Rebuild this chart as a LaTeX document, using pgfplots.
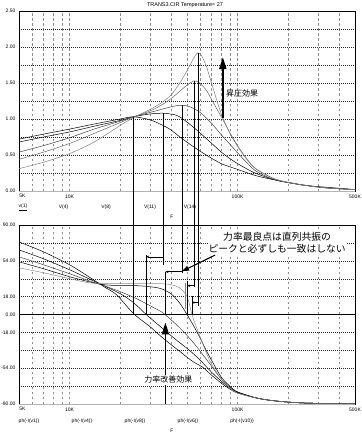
\documentclass[border=0pt]{standalone}
\usepackage{fontspec}
\setmainfont{Liberation Sans}
\newfontfamily\jp{Noto Sans CJK JP}
\usepackage{pgfplots}
\pgfplotsset{compat=1.18}
\usetikzlibrary{arrows.meta}
\pgfplotsset{
    grid style={black!85, dash pattern=on 0.8pt off 1.2pt, line width=0.4pt},
    minor grid style={black!85, dash pattern=on 0.8pt off 1.2pt, line width=0.4pt},
}
\begin{document}
\begin{tikzpicture}[x=1pt,y=1pt]
\useasboundingbox (0,0) rectangle (361,-441);
% ---------------- top axis ----------------
\begin{axis}[scale only axis, width=336pt, height=180pt, at={(19pt,-191pt)}, anchor=south west,
  xmode=log, xmin=5000, xmax=500000,
  xtick={5000,10000,100000,500000}, xticklabels={\hspace*{7pt}5K,10K,100K,500K},
  minor xtick={6000,7000,8000,9000,20000,30000,40000,50000,60000,70000,80000,90000,200000,300000,400000},
  grid=both,
  x grid style={gray!90, dash pattern=on 2.5pt off 2.5pt, line width=0.4pt},
  major tick length=0pt, minor tick length=0pt,
  tick label style={font=\fontsize{5}{6}\selectfont},
  axis line style={line width=0.6pt},
  ymin=0, ymax=2.5,
  ytick={0,0.5,1,1.5,2,2.5}, yticklabels={0.00,0.50,1.00,1.50,2.00,2.50},
  minor ytick={0.25,0.75,1.25,1.75,2.25}]
% V(1)
\addplot[black, line width=0.5pt, smooth, no markers] coordinates {(5000,0.72)(7000,0.79)(10000,0.86)(14000,0.93)(20000,1.00)(24000,1.03)(30000,0.99)(36000,0.91)(40000,0.85)(46000,0.74)(55000,0.61)(65000,0.50)(80000,0.38)(100000,0.30)(130000,0.21)(170000,0.15)(250000,0.08)(350000,0.05)(500000,0.02)};
% V(4)
\addplot[black, line width=0.5pt, smooth, no markers] coordinates {(5000,0.68)(7000,0.75)(10000,0.82)(14000,0.90)(20000,0.98)(24000,1.03)(30000,1.07)(36000,1.08)(42000,1.06)(46000,1.02)(55000,0.88)(65000,0.73)(71000,0.65)(80000,0.54)(90000,0.45)(100000,0.38)(115000,0.30)(130000,0.24)(170000,0.15)(250000,0.08)(350000,0.04)(500000,0.02)};
% V(8)
\addplot[black!75, line width=0.5pt, smooth, no markers] coordinates {(5000,0.54)(7000,0.63)(10000,0.74)(14000,0.86)(20000,0.97)(24000,1.03)(30000,1.09)(36000,1.14)(42000,1.18)(47000,1.19)(52000,1.17)(60000,1.09)(70000,0.94)(80000,0.78)(90000,0.65)(100000,0.53)(115000,0.38)(130000,0.27)(170000,0.15)(250000,0.08)(350000,0.04)(500000,0.02)};
% V(11)
\addplot[black!60, line width=0.5pt, smooth, no markers] coordinates {(5000,0.44)(7000,0.54)(10000,0.66)(14000,0.80)(20000,0.95)(24000,1.03)(30000,1.11)(35000,1.19)(40000,1.28)(45000,1.38)(50000,1.47)(55000,1.53)(58000,1.52)(62000,1.46)(66000,1.38)(70000,1.27)(80000,1.03)(90000,0.81)(100000,0.63)(115000,0.43)(130000,0.30)(170000,0.16)(250000,0.08)(350000,0.04)(500000,0.02)};
% V(14)
\addplot[black!50, line width=0.5pt, smooth, no markers] coordinates {(5000,0.31)(7000,0.40)(10000,0.52)(14000,0.68)(20000,0.91)(24000,1.02)(30000,1.13)(35000,1.22)(40000,1.33)(45000,1.49)(50000,1.67)(55000,1.85)(58000,1.92)(61000,1.88)(65000,1.74)(70000,1.50)(75000,1.27)(80000,1.07)(90000,0.80)(100000,0.62)(115000,0.42)(130000,0.30)(170000,0.16)(250000,0.08)(350000,0.04)(500000,0.02)};
\draw[gray!60, line width=1pt] (rel axis cs:0,0) -- (rel axis cs:1,0);
\coordinate (t1) at (axis cs:24000,1.03);
\coordinate (t2) at (axis cs:36000,1.08);
\coordinate (t3) at (axis cs:47000,1.19);
\coordinate (t4) at (axis cs:55000,1.53);
\coordinate (t5) at (axis cs:58000,1.92);
\draw[black, line width=1.8pt, -{Triangle[length=12pt,width=7pt]}] (axis cs:81700,1.01) -- (axis cs:81700,1.86);
\node[anchor=west, font=\jp\fontsize{8}{9}\selectfont, inner sep=1pt] at (axis cs:84000,1.36) {昇圧効果};
\end{axis}
% ---------------- bottom axis ----------------
\begin{axis}[scale only axis, width=336pt, height=179pt, at={(19pt,-404pt)}, anchor=south west,
  xmode=log, xmin=5000, xmax=500000,
  xtick={5000,10000,100000,500000}, xticklabels={\hspace*{7pt}5K,10K,100K,500K},
  minor xtick={6000,7000,8000,9000,20000,30000,40000,50000,60000,70000,80000,90000,200000,300000,400000},
  grid=both,
  x grid style={gray!90, dash pattern=on 2.5pt off 2.5pt, line width=0.4pt},
  major tick length=0pt, minor tick length=0pt,
  tick label style={font=\fontsize{5}{6}\selectfont},
  axis line style={line width=0.6pt},
  ymin=-90, ymax=90,
  ytick={-90,-54,-18,0,18,54,90}, yticklabels={-90.00,-54.00,-18.00,0.00,18.00,54.00,90.00},
  minor ytick={-72,-36,36,72}]
\draw[black, line width=0.6pt] (axis cs:5000,0) -- (axis cs:500000,0);
\addplot[black, line width=0.5pt, smooth, no markers] coordinates {(5000,73)(7000,63)(10000,50)(13000,38)(16000,28)(19000,20)(24000,1)(30000,-12)(35000,-22)(40000,-30)(46000,-38)(50000,-43)(55000,-48)(62000,-53)(70000,-61)(80000,-69)(90000,-75)(100000,-79)(130000,-84)(170000,-87)(250000,-89)(500000,-90)};
\addplot[black, line width=0.5pt, smooth, no markers] coordinates {(5000,65)(7000,56)(10000,45)(13000,36)(16000,29)(20000,21)(24000,12)(28600,0)(33000,-9)(40000,-21)(45000,-28)(50000,-34)(55000,-40)(60000,-46)(70000,-58)(80000,-67)(90000,-74)(100000,-78)(130000,-84)(170000,-87)(250000,-89)(500000,-90)};
\addplot[black!75, line width=0.5pt, smooth, no markers] coordinates {(5000,58)(7000,50)(10000,41)(13000,34)(16000,29)(20000,23)(25000,16)(30000,9)(35000,3)(37000,0)(40000,-5)(45000,-13)(50000,-21)(55000,-29)(60000,-37)(70000,-52)(80000,-65)(90000,-73)(100000,-78)(130000,-84)(170000,-87)(250000,-89)(500000,-90)};
\addplot[black, line width=0.5pt, smooth, no markers] coordinates {(5000,53)(7000,46)(10000,38)(13000,33)(16000,30)(20000,29)(25000,29)(30000,28)(35000,26)(40000,21)(45000,12)(50000,0)(55000,-12)(60000,-24)(65000,-36)(70000,-46)(80000,-63)(90000,-72)(100000,-78)(130000,-84)(170000,-87)(250000,-89)(500000,-90)};
\addplot[black!45, line width=0.5pt, smooth, no markers] coordinates {(5000,47)(7000,42)(10000,36)(13000,32)(16000,31)(20000,31)(25000,31)(30000,31)(35000,31)(40000,30)(45000,27)(50000,18)(53500,0)(55000,-6)(60000,-23)(65000,-38)(70000,-50)(80000,-65)(90000,-74)(100000,-79)(130000,-84)(170000,-87)(250000,-89)(500000,-90)};
\draw[gray!60, line width=1pt] (rel axis cs:0,0) -- (rel axis cs:1,0);
\coordinate (b1) at (axis cs:24000,0);
\coordinate (b2) at (axis cs:36000,50);
\coordinate (b3) at (axis cs:47000,42);
\coordinate (b4) at (axis cs:55000,28);
\coordinate (b5) at (axis cs:58000,9);
\draw[gray, line width=1.5pt] (axis cs:24000,83) -- (axis cs:24000,57);
\draw[gray, line width=1.5pt] (axis cs:49000,32) -- (axis cs:49000,6);
\draw[line width=0.5pt, -{Stealth[length=3pt,width=2.5pt]}] (axis cs:36000,58) -- (axis cs:28600,58);
\draw[line width=0.6pt] (axis cs:28600,60) -- (axis cs:28600,0);
\draw[line width=0.5pt, -{Stealth[length=3pt,width=2.5pt]}] (axis cs:47000,43) -- (axis cs:37200,43);
\draw[line width=0.6pt] (axis cs:37200,43) -- (axis cs:37200,0);
\draw[line width=0.5pt, -{Stealth[length=2.5pt,width=2.5pt]}] (axis cs:55000,29) -- (axis cs:50300,29);
\draw[line width=0.6pt] (axis cs:50300,34) -- (axis cs:50300,0);
\draw[line width=0.5pt, -{Stealth[length=2.5pt,width=2.5pt]}] (axis cs:58000,12) -- (axis cs:53500,12);
\draw[line width=0.6pt] (axis cs:53500,19) -- (axis cs:53500,0);
\draw[black, line width=1.8pt, -{Triangle[length=12pt,width=7pt]}] (axis cs:37200,-90) -- (axis cs:37200,-8);
\node[fill=white, font=\jp\fontsize{8}{9}\selectfont, inner sep=1pt] at (axis cs:38700,-65.7) {力率改善効果};
\node[fill=white, align=center, font=\jp\fontsize{9.8}{12}\selectfont, inner sep=1pt] at (axis cs:172000,72) {力率最良点は直列共振の\\ピークと必ずしも一致はしない};
\draw[black, line width=1.1pt, -{Triangle[length=7pt,width=5pt]}] (axis cs:73400,59.7) -- (axis cs:46700,43.5);
\end{axis}
% cursor lines between the plots
\draw[black, line width=0.6pt] (t1) -- (t1 |- b1);
\draw[black, line width=0.6pt] (t2) -- (t2 |- b2);
\draw[black, line width=0.6pt] (t3) -- (t3 |- b3);
\draw[black, line width=0.6pt] (t4) -- (t4 |- b4);
\draw[black, line width=0.6pt] (t5) -- (t5 |- b5);
% texts
\node[font=\fontsize{5.5}{6}\selectfont] at (185,-5) {TRANS3.CIR Temperature= 27};
\node[font=\fontsize{5}{6}\selectfont] at (23,-207) {\underline{v(1)}};
\node[font=\fontsize{5}{6}\selectfont] at (63.5,-207) {V(4)};
\node[font=\fontsize{5}{6}\selectfont] at (106,-207) {V(8)};
\node[font=\fontsize{5}{6}\selectfont] at (150,-207) {V(11)};
\node[font=\fontsize{5}{6}\selectfont] at (190,-207) {V(14)};
\node[font=\fontsize{5}{6}\selectfont] at (172,-217) {F};
\node[font=\fontsize{5}{6}\selectfont] at (29,-421) {ph(-I(v1))};
\node[font=\fontsize{5}{6}\selectfont] at (82,-421) {ph(-I(v4))};
\node[font=\fontsize{5}{6}\selectfont] at (135,-421) {ph(-I(v8))};
\node[font=\fontsize{5}{6}\selectfont] at (188,-421) {ph(-I(v6))};
\node[font=\fontsize{5}{6}\selectfont] at (242,-421) {ph(-I(v10))};
\node[font=\fontsize{5}{6}\selectfont] at (172,-431) {F};
\end{tikzpicture}
\end{document}
